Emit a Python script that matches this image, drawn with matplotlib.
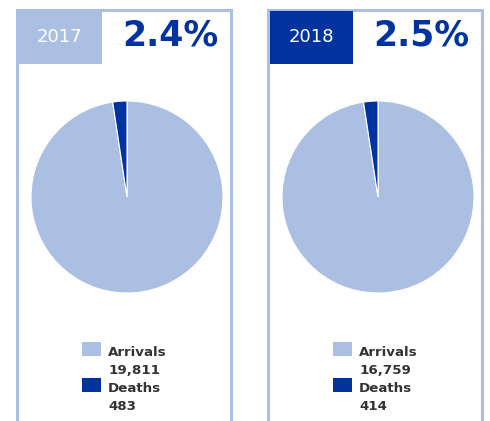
import matplotlib
matplotlib.use("Agg")
import matplotlib.pyplot as plt
from matplotlib.patches import Rectangle

years = ["2017", "2018"]
arrivals = [19811, 16759]
deaths = [483, 414]
percent_labels = ["2.4%", "2.5%"]
series_names = ["Arrivals", "Deaths"]

LIGHT = "#aabfe2"
DARK = "#0033a0"
TEXT = "#333333"

W, H = 490, 421
fig = plt.figure(figsize=(W / 100, H / 100), dpi=100)

bg = fig.add_axes([0, 0, 1, 1])
bg.set_xlim(0, W)
bg.set_ylim(H, 0)
bg.axis("off")

panel_x = [17, 268]
panel_w = 214
header_fill = [LIGHT, DARK]
header_box = [(16, 9, 86, 55), (270, 11, 83, 53)]

for i in range(2):
    x0 = panel_x[i]
    # panel border (left, top, right)
    bg.plot([x0, x0, x0 + panel_w, x0 + panel_w], [H + 5, 10, 10, H + 5],
            color=LIGHT, lw=2.2, solid_joinstyle="miter", zorder=1)
    # header box
    hx, hy, hw, hh = header_box[i]
    bg.add_patch(Rectangle((hx, hy), hw, hh, facecolor=header_fill[i],
                           edgecolor="none", zorder=2))
    bg.text(hx + hw / 2, 37, years[i], color="white", fontsize=13,
            ha="center", va="center", zorder=3)
    bg.text(x0 + 153, 36, percent_labels[i], color=DARK, fontsize=25,
            fontweight="bold", ha="center", va="center", zorder=3)

    # pie
    cx, cy, r = x0 + 110, 197, 96
    ax = fig.add_axes([(cx - r) / W, (H - cy - r) / H, 2 * r / W, 2 * r / H])
    ax.pie([arrivals[i], deaths[i]], colors=[LIGHT, DARK], startangle=90,
           counterclock=False, radius=1,
           wedgeprops=dict(edgecolor="white", linewidth=0.8))
    ax.set_xlim(-1.0, 1.0)
    ax.set_ylim(-1.0, 1.0)
    ax.set_aspect("equal")
    ax.axis("off")

    # legend
    lx = x0 + 65
    bg.add_patch(Rectangle((lx, 342), 19, 14, facecolor=LIGHT, edgecolor="none"))
    bg.add_patch(Rectangle((lx, 378), 19, 14, facecolor=DARK, edgecolor="none"))
    tx = lx + 26
    fs = 9.6
    bg.text(tx, 352, series_names[0], color=TEXT, fontsize=fs, fontweight="bold",
            ha="left", va="center")
    bg.text(tx, 370, f"{arrivals[i]:,}", color=TEXT, fontsize=fs, fontweight="bold",
            ha="left", va="center")
    bg.text(tx, 388, series_names[1], color=TEXT, fontsize=fs, fontweight="bold",
            ha="left", va="center")
    bg.text(tx, 406, f"{deaths[i]:,}", color=TEXT, fontsize=fs, fontweight="bold",
            ha="left", va="center")

fig.savefig("out.png", dpi=100)
